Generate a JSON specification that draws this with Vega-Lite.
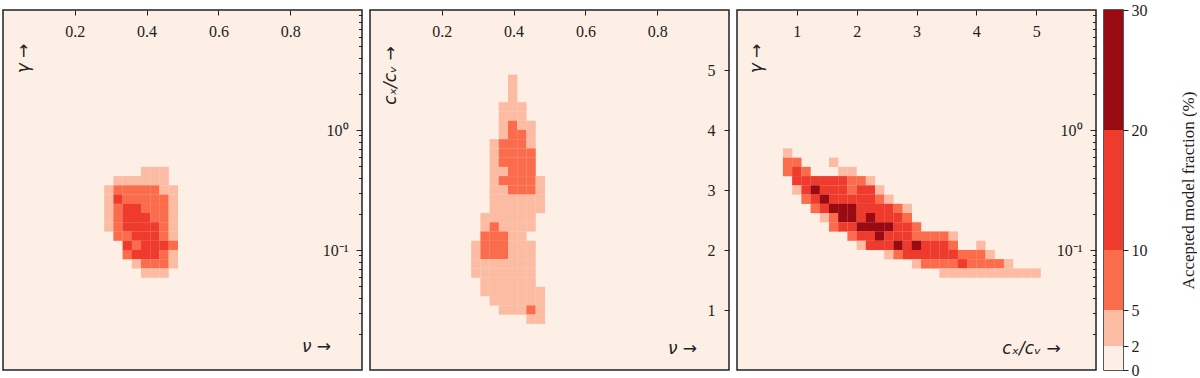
{
  "$schema": "https://vega.github.io/schema/vega-lite/v6.json",
  "padding": {"left": 2, "top": 1, "right": 0, "bottom": 0},
  "config": {
    "view": {"stroke": "#222222", "strokeWidth": 1.5},
    "axis": {"domain": false, "grid": false, "tickColor": "#222222", "tickWidth": 1, "labelColor": "#222222", "labelFont": "Liberation Serif, Times New Roman, serif", "labelFontSize": 16, "titleColor": "#222222", "titleFont": "DejaVu Sans", "titleFontSize": 17, "titleFontWeight": "normal", "labelFlush": false, "labelOverlap": false}
  },
  "datasets": {
    "p1": [
      {"nu":0.3974,"g":0.4506,"f":3},{"nu":0.4231,"g":0.4506,"f":3},{"nu":0.4487,"g":0.4506,"f":3},
      {"nu":0.3205,"g":0.3775,"f":3},{"nu":0.3462,"g":0.3775,"f":3},{"nu":0.3718,"g":0.3775,"f":3},{"nu":0.3974,"g":0.3775,"f":3},{"nu":0.4231,"g":0.3775,"f":3},{"nu":0.4487,"g":0.3775,"f":3},
      {"nu":0.2949,"g":0.3162,"f":3},{"nu":0.3205,"g":0.3162,"f":7},{"nu":0.3462,"g":0.3162,"f":7},{"nu":0.3718,"g":0.3162,"f":7},{"nu":0.3974,"g":0.3162,"f":7},{"nu":0.4231,"g":0.3162,"f":7},{"nu":0.4487,"g":0.3162,"f":3},{"nu":0.4744,"g":0.3162,"f":3},
      {"nu":0.2949,"g":0.2649,"f":3},{"nu":0.3205,"g":0.2649,"f":15},{"nu":0.3462,"g":0.2649,"f":7},{"nu":0.3718,"g":0.2649,"f":7},{"nu":0.3974,"g":0.2649,"f":7},{"nu":0.4231,"g":0.2649,"f":7},{"nu":0.4487,"g":0.2649,"f":7},{"nu":0.4744,"g":0.2649,"f":3},
      {"nu":0.2949,"g":0.2219,"f":3},{"nu":0.3205,"g":0.2219,"f":7},{"nu":0.3462,"g":0.2219,"f":15},{"nu":0.3718,"g":0.2219,"f":15},{"nu":0.3974,"g":0.2219,"f":7},{"nu":0.4231,"g":0.2219,"f":7},{"nu":0.4487,"g":0.2219,"f":7},{"nu":0.4744,"g":0.2219,"f":3},
      {"nu":0.2949,"g":0.1859,"f":3},{"nu":0.3205,"g":0.1859,"f":7},{"nu":0.3462,"g":0.1859,"f":15},{"nu":0.3718,"g":0.1859,"f":15},{"nu":0.3974,"g":0.1859,"f":15},{"nu":0.4231,"g":0.1859,"f":7},{"nu":0.4487,"g":0.1859,"f":7},{"nu":0.4744,"g":0.1859,"f":3},
      {"nu":0.2949,"g":0.1557,"f":3},{"nu":0.3205,"g":0.1557,"f":7},{"nu":0.3462,"g":0.1557,"f":15},{"nu":0.3718,"g":0.1557,"f":15},{"nu":0.3974,"g":0.1557,"f":15},{"nu":0.4231,"g":0.1557,"f":15},{"nu":0.4487,"g":0.1557,"f":7},{"nu":0.4744,"g":0.1557,"f":3},
      {"nu":0.3205,"g":0.1305,"f":7},{"nu":0.3462,"g":0.1305,"f":7},{"nu":0.3718,"g":0.1305,"f":15},{"nu":0.3974,"g":0.1305,"f":15},{"nu":0.4231,"g":0.1305,"f":15},{"nu":0.4487,"g":0.1305,"f":7},{"nu":0.4744,"g":0.1305,"f":3},
      {"nu":0.3462,"g":0.1093,"f":15},{"nu":0.3718,"g":0.1093,"f":7},{"nu":0.3974,"g":0.1093,"f":15},{"nu":0.4231,"g":0.1093,"f":15},{"nu":0.4487,"g":0.1093,"f":15},{"nu":0.4744,"g":0.1093,"f":7},
      {"nu":0.3462,"g":0.0915,"f":7},{"nu":0.3718,"g":0.0915,"f":15},{"nu":0.3974,"g":0.0915,"f":15},{"nu":0.4231,"g":0.0915,"f":15},{"nu":0.4487,"g":0.0915,"f":7},{"nu":0.4744,"g":0.0915,"f":3},
      {"nu":0.3718,"g":0.0767,"f":3},{"nu":0.3974,"g":0.0767,"f":7},{"nu":0.4231,"g":0.0767,"f":7},{"nu":0.4487,"g":0.0767,"f":7},{"nu":0.4744,"g":0.0767,"f":3},
      {"nu":0.3974,"g":0.0642,"f":3},{"nu":0.4231,"g":0.0642,"f":3},{"nu":0.4487,"g":0.0642,"f":3}
    ],
    "p2": [
      {"nu":0.3974,"c":4.8462,"f":3},
      {"nu":0.3974,"c":4.6923,"f":3},
      {"nu":0.3974,"c":4.5385,"f":3},
      {"nu":0.3718,"c":4.3846,"f":3},{"nu":0.3974,"c":4.3846,"f":3},{"nu":0.4231,"c":4.3846,"f":3},
      {"nu":0.3718,"c":4.2308,"f":3},{"nu":0.3974,"c":4.2308,"f":3},{"nu":0.4231,"c":4.2308,"f":3},
      {"nu":0.3718,"c":4.0769,"f":3},{"nu":0.3974,"c":4.0769,"f":7},{"nu":0.4231,"c":4.0769,"f":3},{"nu":0.4487,"c":4.0769,"f":3},
      {"nu":0.3718,"c":3.9231,"f":3},{"nu":0.3974,"c":3.9231,"f":7},{"nu":0.4231,"c":3.9231,"f":7},{"nu":0.4487,"c":3.9231,"f":3},
      {"nu":0.3462,"c":3.7692,"f":3},{"nu":0.3718,"c":3.7692,"f":7},{"nu":0.3974,"c":3.7692,"f":7},{"nu":0.4231,"c":3.7692,"f":7},{"nu":0.4487,"c":3.7692,"f":3},
      {"nu":0.3462,"c":3.6154,"f":3},{"nu":0.3718,"c":3.6154,"f":7},{"nu":0.3974,"c":3.6154,"f":7},{"nu":0.4231,"c":3.6154,"f":7},{"nu":0.4487,"c":3.6154,"f":7},
      {"nu":0.3462,"c":3.4615,"f":3},{"nu":0.3718,"c":3.4615,"f":7},{"nu":0.3974,"c":3.4615,"f":7},{"nu":0.4231,"c":3.4615,"f":7},{"nu":0.4487,"c":3.4615,"f":7},
      {"nu":0.3462,"c":3.3077,"f":3},{"nu":0.3718,"c":3.3077,"f":3},{"nu":0.3974,"c":3.3077,"f":7},{"nu":0.4231,"c":3.3077,"f":7},{"nu":0.4487,"c":3.3077,"f":7},
      {"nu":0.3462,"c":3.1538,"f":3},{"nu":0.3718,"c":3.1538,"f":7},{"nu":0.3974,"c":3.1538,"f":7},{"nu":0.4231,"c":3.1538,"f":7},{"nu":0.4487,"c":3.1538,"f":7},{"nu":0.4744,"c":3.1538,"f":3},
      {"nu":0.3462,"c":3.0,"f":3},{"nu":0.3718,"c":3.0,"f":3},{"nu":0.3974,"c":3.0,"f":7},{"nu":0.4231,"c":3.0,"f":7},{"nu":0.4487,"c":3.0,"f":7},{"nu":0.4744,"c":3.0,"f":3},
      {"nu":0.3462,"c":2.8462,"f":3},{"nu":0.3718,"c":2.8462,"f":3},{"nu":0.3974,"c":2.8462,"f":3},{"nu":0.4231,"c":2.8462,"f":3},{"nu":0.4487,"c":2.8462,"f":3},{"nu":0.4744,"c":2.8462,"f":3},
      {"nu":0.3462,"c":2.6923,"f":3},{"nu":0.3718,"c":2.6923,"f":3},{"nu":0.3974,"c":2.6923,"f":3},{"nu":0.4231,"c":2.6923,"f":3},{"nu":0.4487,"c":2.6923,"f":3},{"nu":0.4744,"c":2.6923,"f":3},
      {"nu":0.3205,"c":2.5385,"f":3},{"nu":0.3462,"c":2.5385,"f":3},{"nu":0.3718,"c":2.5385,"f":3},{"nu":0.3974,"c":2.5385,"f":3},{"nu":0.4231,"c":2.5385,"f":3},{"nu":0.4487,"c":2.5385,"f":3},
      {"nu":0.3205,"c":2.3846,"f":3},{"nu":0.3462,"c":2.3846,"f":7},{"nu":0.3718,"c":2.3846,"f":3},{"nu":0.3974,"c":2.3846,"f":3},{"nu":0.4231,"c":2.3846,"f":3},{"nu":0.4487,"c":2.3846,"f":3},
      {"nu":0.3205,"c":2.2308,"f":7},{"nu":0.3462,"c":2.2308,"f":7},{"nu":0.3718,"c":2.2308,"f":7},{"nu":0.3974,"c":2.2308,"f":3},{"nu":0.4231,"c":2.2308,"f":3},
      {"nu":0.2949,"c":2.0769,"f":3},{"nu":0.3205,"c":2.0769,"f":7},{"nu":0.3462,"c":2.0769,"f":7},{"nu":0.3718,"c":2.0769,"f":7},{"nu":0.3974,"c":2.0769,"f":3},{"nu":0.4231,"c":2.0769,"f":3},{"nu":0.4487,"c":2.0769,"f":3},
      {"nu":0.2949,"c":1.9231,"f":3},{"nu":0.3205,"c":1.9231,"f":7},{"nu":0.3462,"c":1.9231,"f":7},{"nu":0.3718,"c":1.9231,"f":7},{"nu":0.3974,"c":1.9231,"f":3},{"nu":0.4231,"c":1.9231,"f":3},{"nu":0.4487,"c":1.9231,"f":3},
      {"nu":0.2949,"c":1.7692,"f":3},{"nu":0.3205,"c":1.7692,"f":3},{"nu":0.3462,"c":1.7692,"f":3},{"nu":0.3718,"c":1.7692,"f":3},{"nu":0.3974,"c":1.7692,"f":3},{"nu":0.4231,"c":1.7692,"f":3},{"nu":0.4487,"c":1.7692,"f":3},
      {"nu":0.2949,"c":1.6154,"f":3},{"nu":0.3205,"c":1.6154,"f":3},{"nu":0.3462,"c":1.6154,"f":3},{"nu":0.3718,"c":1.6154,"f":3},{"nu":0.3974,"c":1.6154,"f":3},{"nu":0.4231,"c":1.6154,"f":3},{"nu":0.4487,"c":1.6154,"f":3},
      {"nu":0.3205,"c":1.4615,"f":3},{"nu":0.3462,"c":1.4615,"f":3},{"nu":0.3718,"c":1.4615,"f":3},{"nu":0.3974,"c":1.4615,"f":3},{"nu":0.4231,"c":1.4615,"f":3},{"nu":0.4487,"c":1.4615,"f":3},
      {"nu":0.3205,"c":1.3077,"f":3},{"nu":0.3462,"c":1.3077,"f":3},{"nu":0.3718,"c":1.3077,"f":3},{"nu":0.3974,"c":1.3077,"f":3},{"nu":0.4231,"c":1.3077,"f":3},{"nu":0.4487,"c":1.3077,"f":3},{"nu":0.4744,"c":1.3077,"f":3},
      {"nu":0.3462,"c":1.1538,"f":3},{"nu":0.3718,"c":1.1538,"f":3},{"nu":0.3974,"c":1.1538,"f":3},{"nu":0.4231,"c":1.1538,"f":3},{"nu":0.4487,"c":1.1538,"f":3},{"nu":0.4744,"c":1.1538,"f":3},
      {"nu":0.3718,"c":1.0,"f":3},{"nu":0.3974,"c":1.0,"f":3},{"nu":0.4231,"c":1.0,"f":3},{"nu":0.4487,"c":1.0,"f":7},{"nu":0.4744,"c":1.0,"f":3},
      {"nu":0.4487,"c":0.8462,"f":3},{"nu":0.4744,"c":0.8462,"f":3}
    ],
    "p3": [
      {"c":0.8462,"g":0.6424,"f":3},
      {"c":0.8462,"g":0.538,"f":7},{"c":1.0,"g":0.538,"f":7},{"c":1.6154,"g":0.538,"f":3},
      {"c":0.8462,"g":0.4506,"f":7},{"c":1.0,"g":0.4506,"f":15},{"c":1.1538,"g":0.4506,"f":7},{"c":1.7692,"g":0.4506,"f":3},{"c":1.9231,"g":0.4506,"f":3},
      {"c":1.0,"g":0.3775,"f":15},{"c":1.1538,"g":0.3775,"f":15},{"c":1.3077,"g":0.3775,"f":15},{"c":1.4615,"g":0.3775,"f":15},{"c":1.6154,"g":0.3775,"f":15},{"c":1.7692,"g":0.3775,"f":15},{"c":1.9231,"g":0.3775,"f":7},{"c":2.0769,"g":0.3775,"f":7},{"c":2.2308,"g":0.3775,"f":3},
      {"c":1.0,"g":0.3162,"f":3},{"c":1.1538,"g":0.3162,"f":15},{"c":1.3077,"g":0.3162,"f":25},{"c":1.4615,"g":0.3162,"f":15},{"c":1.6154,"g":0.3162,"f":15},{"c":1.7692,"g":0.3162,"f":15},{"c":1.9231,"g":0.3162,"f":7},{"c":2.0769,"g":0.3162,"f":15},{"c":2.2308,"g":0.3162,"f":15},{"c":2.3846,"g":0.3162,"f":3},
      {"c":1.1538,"g":0.2649,"f":7},{"c":1.3077,"g":0.2649,"f":15},{"c":1.4615,"g":0.2649,"f":25},{"c":1.6154,"g":0.2649,"f":15},{"c":1.7692,"g":0.2649,"f":15},{"c":1.9231,"g":0.2649,"f":15},{"c":2.0769,"g":0.2649,"f":15},{"c":2.2308,"g":0.2649,"f":15},{"c":2.3846,"g":0.2649,"f":7},{"c":2.5385,"g":0.2649,"f":3},
      {"c":1.3077,"g":0.2219,"f":7},{"c":1.4615,"g":0.2219,"f":15},{"c":1.6154,"g":0.2219,"f":25},{"c":1.7692,"g":0.2219,"f":25},{"c":1.9231,"g":0.2219,"f":25},{"c":2.0769,"g":0.2219,"f":15},{"c":2.2308,"g":0.2219,"f":15},{"c":2.3846,"g":0.2219,"f":15},{"c":2.5385,"g":0.2219,"f":15},{"c":2.6923,"g":0.2219,"f":7},{"c":2.8462,"g":0.2219,"f":3},
      {"c":1.4615,"g":0.1859,"f":3},{"c":1.6154,"g":0.1859,"f":7},{"c":1.7692,"g":0.1859,"f":25},{"c":1.9231,"g":0.1859,"f":25},{"c":2.0769,"g":0.1859,"f":15},{"c":2.2308,"g":0.1859,"f":25},{"c":2.3846,"g":0.1859,"f":15},{"c":2.5385,"g":0.1859,"f":15},{"c":2.6923,"g":0.1859,"f":15},{"c":2.8462,"g":0.1859,"f":7},
      {"c":1.6154,"g":0.1557,"f":7},{"c":1.7692,"g":0.1557,"f":15},{"c":1.9231,"g":0.1557,"f":15},{"c":2.0769,"g":0.1557,"f":25},{"c":2.2308,"g":0.1557,"f":25},{"c":2.3846,"g":0.1557,"f":25},{"c":2.5385,"g":0.1557,"f":25},{"c":2.6923,"g":0.1557,"f":15},{"c":2.8462,"g":0.1557,"f":15},{"c":3.0,"g":0.1557,"f":7},
      {"c":1.9231,"g":0.1305,"f":7},{"c":2.0769,"g":0.1305,"f":15},{"c":2.2308,"g":0.1305,"f":15},{"c":2.3846,"g":0.1305,"f":25},{"c":2.5385,"g":0.1305,"f":15},{"c":2.6923,"g":0.1305,"f":15},{"c":2.8462,"g":0.1305,"f":15},{"c":3.0,"g":0.1305,"f":7},{"c":3.1538,"g":0.1305,"f":7},{"c":3.3077,"g":0.1305,"f":7},{"c":3.4615,"g":0.1305,"f":7},{"c":3.6154,"g":0.1305,"f":3},
      {"c":2.0769,"g":0.1093,"f":3},{"c":2.2308,"g":0.1093,"f":15},{"c":2.3846,"g":0.1093,"f":15},{"c":2.5385,"g":0.1093,"f":15},{"c":2.6923,"g":0.1093,"f":25},{"c":2.8462,"g":0.1093,"f":15},{"c":3.0,"g":0.1093,"f":25},{"c":3.1538,"g":0.1093,"f":15},{"c":3.3077,"g":0.1093,"f":15},{"c":3.4615,"g":0.1093,"f":15},{"c":3.6154,"g":0.1093,"f":7},{"c":4.0769,"g":0.1093,"f":3},
      {"c":2.5385,"g":0.0915,"f":3},{"c":2.6923,"g":0.0915,"f":7},{"c":2.8462,"g":0.0915,"f":15},{"c":3.0,"g":0.0915,"f":15},{"c":3.1538,"g":0.0915,"f":15},{"c":3.3077,"g":0.0915,"f":15},{"c":3.4615,"g":0.0915,"f":15},{"c":3.6154,"g":0.0915,"f":15},{"c":3.7692,"g":0.0915,"f":7},{"c":3.9231,"g":0.0915,"f":7},{"c":4.0769,"g":0.0915,"f":7},{"c":4.2308,"g":0.0915,"f":3},
      {"c":3.0,"g":0.0767,"f":3},{"c":3.1538,"g":0.0767,"f":7},{"c":3.3077,"g":0.0767,"f":7},{"c":3.4615,"g":0.0767,"f":7},{"c":3.6154,"g":0.0767,"f":7},{"c":3.7692,"g":0.0767,"f":15},{"c":3.9231,"g":0.0767,"f":7},{"c":4.0769,"g":0.0767,"f":7},{"c":4.2308,"g":0.0767,"f":7},{"c":4.3846,"g":0.0767,"f":7},{"c":4.5385,"g":0.0767,"f":3},
      {"c":3.4615,"g":0.0642,"f":3},{"c":3.6154,"g":0.0642,"f":3},{"c":3.7692,"g":0.0642,"f":3},{"c":3.9231,"g":0.0642,"f":3},{"c":4.0769,"g":0.0642,"f":3},{"c":4.2308,"g":0.0642,"f":3},{"c":4.3846,"g":0.0642,"f":3},{"c":4.5385,"g":0.0642,"f":3},{"c":4.6923,"g":0.0642,"f":3},{"c":4.8462,"g":0.0642,"f":3},{"c":5.0,"g":0.0642,"f":3}
    ],
    "cb": [
      {"lo":0,"hi":2,"f":1},{"lo":2,"hi":5,"f":3},{"lo":5,"hi":10,"f":7},{"lo":10,"hi":20,"f":15},{"lo":20,"hi":30,"f":25}
    ]
  },
  "hconcat": [
    {
      "width": 359, "height": 360,
      "view": {"fill": "#fdefe6"},
      "data": {"name": "p1"},
      "mark": {"type": "square", "size": 88, "filled": true, "opacity": 1, "strokeWidth": 0},
      "encoding": {
        "x": {"field": "nu", "type": "quantitative", "scale": {"domain": [0, 1], "nice": false},
          "axis": {"orient": "top", "values": [0.2, 0.4, 0.6, 0.8], "format": ".1f", "tickSize": -5, "labelPadding": -16, "labelBaseline": "middle",
            "title": "ν →", "titleX": 313, "titleY": 336, "titleAngle": 0, "titleAlign": "center", "titleBaseline": "middle", "titleFontStyle": "italic"}},
        "y": {"field": "g", "type": "quantitative", "scale": {"type": "log", "domain": [0.01, 10], "nice": false},
          "axis": {"orient": "right", "values": [0.02,0.03,0.04,0.05,0.06,0.07,0.08,0.09,0.1,0.2,0.3,0.4,0.5,0.6,0.7,0.8,0.9,1,2,3,4,5,6,7,8,9],
            "labelExpr": "datum.value == 1 ? '10⁰' : (abs(datum.value - 0.1) < 1e-9 ? '10⁻¹' : '')",
            "tickSize": {"condition": {"test": "datum.value == 1 || abs(datum.value - 0.1) < 1e-9", "value": -6}, "value": -3.5},
            "labelPadding": -8, "labelAlign": "right", "labelBaseline": "middle",
            "title": "γ →", "titleX": -339, "titleY": 48, "titleAngle": 270, "titleAlign": "center", "titleBaseline": "middle", "titleFontStyle": "italic"}},
        "color": {"field": "f", "type": "quantitative", "scale": {"type": "threshold", "domain": [2, 5, 10, 20], "range": ["#fdefe6", "#fcbca3", "#fb6c4d", "#ee3b2d", "#9a0a12"]}, "legend": null}
      }
    },
    {
      "width": 359, "height": 360,
      "view": {"fill": "#fdefe6"},
      "data": {"name": "p2"},
      "mark": {"type": "square", "size": 88, "filled": true, "opacity": 1, "strokeWidth": 0},
      "encoding": {
        "x": {"field": "nu", "type": "quantitative", "scale": {"domain": [0, 1], "nice": false},
          "axis": {"orient": "top", "values": [0.2, 0.4, 0.6, 0.8], "format": ".1f", "tickSize": -5, "labelPadding": -16, "labelBaseline": "middle",
            "title": "ν →", "titleX": 312, "titleY": 338, "titleAngle": 0, "titleAlign": "center", "titleBaseline": "middle", "titleFontStyle": "italic"}},
        "y": {"field": "c", "type": "quantitative", "scale": {"domain": [0, 6], "nice": false},
          "axis": {"orient": "right", "values": [1, 2, 3, 4, 5], "tickSize": -5, "labelPadding": -9, "labelAlign": "right", "labelBaseline": "middle",
            "title": "cₓ/cᵥ →", "titleX": -339, "titleY": 65, "titleAngle": 270, "titleAlign": "center", "titleBaseline": "middle", "titleFontStyle": "italic"}},
        "color": {"field": "f", "type": "quantitative", "scale": {"type": "threshold", "domain": [2, 5, 10, 20], "range": ["#fdefe6", "#fcbca3", "#fb6c4d", "#ee3b2d", "#9a0a12"]}, "legend": null}
      }
    },
    {
      "width": 359, "height": 360,
      "view": {"fill": "#fdefe6"},
      "data": {"name": "p3"},
      "mark": {"type": "square", "size": 88, "filled": true, "opacity": 1, "strokeWidth": 0},
      "encoding": {
        "x": {"field": "c", "type": "quantitative", "scale": {"domain": [0, 6], "nice": false},
          "axis": {"orient": "top", "values": [1, 2, 3, 4, 5], "tickSize": -5, "labelPadding": -16, "labelBaseline": "middle",
            "title": "cₓ/cᵥ →", "titleX": 294, "titleY": 338, "titleAngle": 0, "titleAlign": "center", "titleBaseline": "middle", "titleFontStyle": "italic"}},
        "y": {"field": "g", "type": "quantitative", "scale": {"type": "log", "domain": [0.01, 10], "nice": false},
          "axis": {"orient": "right", "values": [0.02,0.03,0.04,0.05,0.06,0.07,0.08,0.09,0.1,0.2,0.3,0.4,0.5,0.6,0.7,0.8,0.9,1,2,3,4,5,6,7,8,9],
            "labelExpr": "datum.value == 1 ? '10⁰' : (abs(datum.value - 0.1) < 1e-9 ? '10⁻¹' : '')",
            "tickSize": {"condition": {"test": "datum.value == 1 || abs(datum.value - 0.1) < 1e-9", "value": -6}, "value": -3.5},
            "labelPadding": -8, "labelAlign": "right", "labelBaseline": "middle",
            "title": "γ →", "titleX": -340, "titleY": 48, "titleAngle": 270, "titleAlign": "center", "titleBaseline": "middle", "titleFontStyle": "italic"}},
        "color": {"field": "f", "type": "quantitative", "scale": {"type": "threshold", "domain": [2, 5, 10, 20], "range": ["#fdefe6", "#fcbca3", "#fb6c4d", "#ee3b2d", "#9a0a12"]}, "legend": null}
      }
    },
    {
      "width": 19, "height": 360,
      "data": {"name": "cb"},
      "mark": {"type": "rect"},
      "encoding": {
        "y": {"field": "lo", "type": "quantitative", "scale": {"domain": [0, 30], "nice": false},
          "axis": {"orient": "right", "values": [0, 2, 5, 10, 20, 30], "tickSize": 5, "labelPadding": 3, "labelBaseline": "middle",
            "title": "Accepted model fraction (%)", "titleFont": "Liberation Serif, Times New Roman, serif", "titleFontSize": 17, "titleX": 65, "titleY": 180, "titleAngle": 270, "titleAlign": "center", "titleBaseline": "middle"}},
        "y2": {"field": "hi"},
        "color": {"field": "f", "type": "quantitative", "scale": {"type": "threshold", "domain": [2, 5, 10, 20], "range": ["#fdefe6", "#fcbca3", "#fb6c4d", "#ee3b2d", "#9a0a12"]}, "legend": null}
      }
    }
  ],
  "spacing": 5
}
